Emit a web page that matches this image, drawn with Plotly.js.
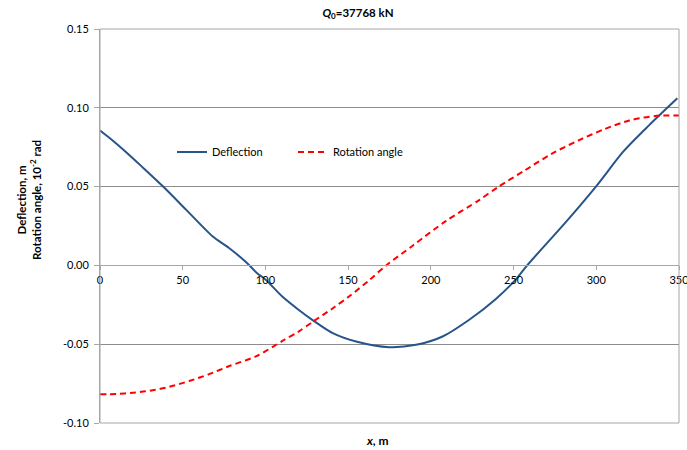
<!DOCTYPE html>
<html>
<head>
<meta charset="utf-8">
<script src="https://cdn.plot.ly/plotly-3.0.1.min.js"></script>
<style>
  html, body { margin: 0; padding: 0; background: #fff; }
  #chart { width: 687px; height: 450px; }
</style>
</head>
<body>
<div id="chart"></div>
<script>
// Beam response along its length, x in metres
const deflectionX = [0, 8, 16, 25, 38, 52, 68, 78, 88.7, 95, 100, 110, 120, 129.6, 140.7, 154.8, 174.9, 191, 207.1, 223.2, 239.3, 251.4, 258.2, 281.3, 300.4, 316.4, 332, 349];
const deflectionY = [0.0856, 0.0790, 0.0717, 0.0630, 0.0502, 0.0354, 0.0185, 0.0110, 0.0017, -0.0050, -0.0089, -0.0196, -0.0281, -0.0355, -0.0430, -0.0483, -0.0519, -0.0504, -0.0451, -0.0345, -0.0213, -0.0089, 0.0000, 0.0271, 0.0508, 0.0723, 0.0890, 0.1060];

const rotationX = [0, 10, 20, 30.2, 42, 54.4, 66, 78.6, 94.5, 110.5, 120, 129, 141, 150.7, 163, 173, 189, 209, 229, 241, 257, 273, 289, 305, 320, 336.6, 350];
const rotationY = [-0.0818, -0.0816, -0.0808, -0.0795, -0.0770, -0.0732, -0.0690, -0.0637, -0.0576, -0.0478, -0.0420, -0.0355, -0.0270, -0.0196, -0.0092, 0.0000, 0.0125, 0.0281, 0.0413, 0.0500, 0.0604, 0.0708, 0.0792, 0.0865, 0.0920, 0.0949, 0.0951];

const seriesNames = ['Deflection', 'Rotation angle'];

const xTickVals = [0, 50, 100, 150, 200, 250, 300, 350];
const xTickText = ['0', '50', '100', '150', '200', '250', '300', '350'];
const yTickVals = [-0.10, -0.05, 0.00, 0.05, 0.10, 0.15];
const yTickText = ['-0.10', '-0.05', '0.00', '0.05', '0.10', '0.15'];

const FONT = 'Lato, "Noto Sans", "Liberation Sans", sans-serif';
const AXIS_GREY = '#a6a6a6';
const GRID_GREY = '#8c8c8c';

const traces = [
  {
    x: deflectionX, y: deflectionY, name: seriesNames[0],
    type: 'scatter', mode: 'lines',
    line: { color: '#27548a', width: 2, shape: 'spline', smoothing: 0.8 }
  },
  {
    x: rotationX, y: rotationY, name: seriesNames[1],
    type: 'scatter', mode: 'lines',
    line: { color: '#ff0000', width: 2, dash: '6px,4px', shape: 'spline', smoothing: 0.8 }
  }
];

// the horizontal axis crosses the vertical one at y = 0
const yRange = [-0.10, 0.15];
const zeroPos = (0 - yRange[0]) / (yRange[1] - yRange[0]);

const layout = {
  width: 687, height: 450,
  margin: { l: 100, r: 8, t: 29, b: 27 },
  paper_bgcolor: '#fff', plot_bgcolor: '#fff',
  font: { family: FONT, size: 11, color: '#000' },
  showlegend: true,
  title: {
    text: '<b><i>Q</i><sub>0</sub>=37768 kN</b>',
    font: { family: FONT, size: 11.5, color: '#000' },
    x: 358 / 687, xanchor: 'center', xref: 'container',
    y: 1 - 13 / 450, yanchor: 'middle', yref: 'container'
  },
  xaxis: {
    range: [0, 350],
    tickvals: xTickVals, ticktext: xTickText,
    anchor: 'free', position: zeroPos,
    showline: true, linecolor: AXIS_GREY, linewidth: 1,
    ticks: 'outside', ticklen: 4, tickcolor: AXIS_GREY,
    ticklabeloverflow: 'allow',
    showgrid: false, zeroline: false,
    tickfont: { family: FONT, size: 11, color: '#000' }
  },
  yaxis: {
    range: yRange,
    tickvals: yTickVals, ticktext: yTickText,
    showline: true, linecolor: AXIS_GREY, linewidth: 1,
    ticks: 'outside', ticklen: 5, tickcolor: AXIS_GREY,
    ticklabelstandoff: 3,
    showgrid: true, gridcolor: GRID_GREY, gridwidth: 1,
    zeroline: false,
    tickfont: { family: FONT, size: 11, color: '#000' }
  },
  legend: {
    orientation: 'h',
    x: (172 - 100) / 579, xanchor: 'left',
    y: (423 - 152) / 394, yanchor: 'middle',
    bgcolor: 'rgba(0,0,0,0)',
    font: { family: FONT, size: 11, color: '#000' },
    entrywidth: 76, entrywidthmode: 'pixels',
    traceorder: 'normal'
  },
  shapes: [
    {
      type: 'rect', xref: 'paper', yref: 'paper',
      x0: 0, x1: 1, y0: 0, y1: 1,
      line: { color: AXIS_GREY, width: 1 }, fillcolor: 'rgba(0,0,0,0)'
    }
  ],
  annotations: [
    {
      // vertical axis title, two lines
      text: '<b>Deflection, m<br>Rotation angle, 10<sup>-2</sup> rad</b>',
      xref: 'paper', yref: 'paper',
      x: -(100 - 29) / 579, y: (423 - 200) / 394,
      xanchor: 'center', yanchor: 'middle', showarrow: false,
      textangle: -90,
      font: { family: FONT, size: 11.5, color: '#000' }
    },
    {
      text: '<b><i>x</i>, m</b>',
      xref: 'paper', yref: 'paper',
      x: (377 - 100) / 579, y: -(440 - 423) / 394,
      xanchor: 'center', yanchor: 'middle', showarrow: false,
      font: { family: FONT, size: 12, color: '#000' }
    }
  ]
};

Plotly.newPlot('chart', traces, layout, { displayModeBar: false, staticPlot: true });
</script>
</body>
</html>
